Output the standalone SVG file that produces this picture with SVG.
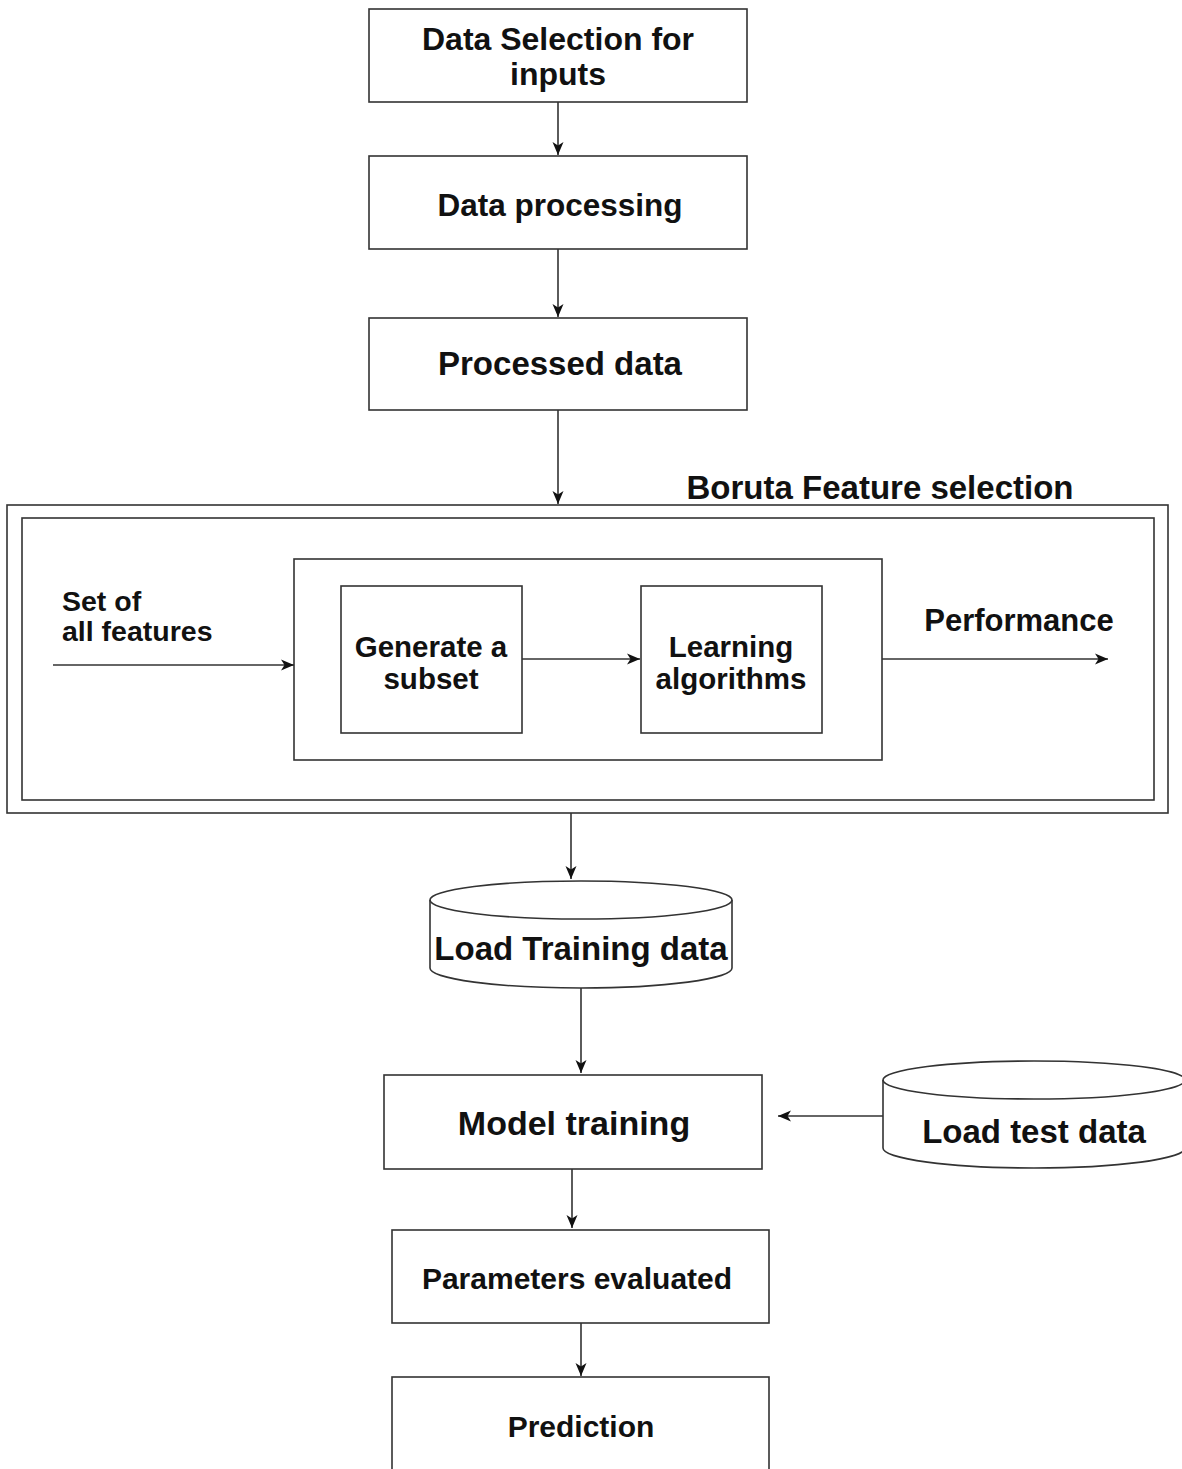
<svg xmlns="http://www.w3.org/2000/svg" width="1182" height="1469" viewBox="0 0 1182 1469">
<style>
.box{fill:#fff;stroke:#333;stroke-width:1.6}
.ln{fill:none;stroke:#333;stroke-width:1.6}
text{font-family:"Liberation Sans",Arial,sans-serif;font-weight:bold;fill:#111;text-anchor:middle}
.l{text-anchor:start}
</style>
<defs>
<marker id="ah" viewBox="0 0 13 12" refX="13" refY="6" markerWidth="13" markerHeight="12" markerUnits="userSpaceOnUse" orient="auto">
<path d="M0,0.5 L13,6 L0,11.5 L3.5,6 Z" fill="#111"/>
</marker>
</defs>
<rect width="1182" height="1469" fill="#fff"/>
<g id="n-data-selection">
<rect class="box" x="369" y="9" width="378" height="93"/>
<text x="558" y="50" font-size="32">Data Selection for</text>
<text x="558" y="85" font-size="32">inputs</text>
</g>
<g id="n-data-processing">
<rect class="box" x="369" y="156" width="378" height="93"/>
<text x="560" y="216" font-size="31.5">Data processing</text>
</g>
<g id="n-processed-data">
<rect class="box" x="369" y="318" width="378" height="92"/>
<text x="560" y="375" font-size="33">Processed data</text>
</g>
<g id="n-boruta">
<rect class="box" x="7" y="505" width="1161" height="308"/>
<rect class="box" x="22" y="518" width="1132" height="282"/>
<text x="880" y="499" font-size="33">Boruta Feature selection</text>
<text class="l" x="62" y="611" font-size="28.5">Set of</text>
<text class="l" x="62" y="641" font-size="28.5">all features</text>
<text x="1019" y="631" font-size="31">Performance</text>
</g>
<g id="n-inner">
<rect class="box" x="294" y="559" width="588" height="201"/>
</g>
<g id="n-generate">
<rect class="box" x="341" y="586" width="181" height="147"/>
<text x="431" y="657" font-size="29.5">Generate a</text>
<text x="431" y="689" font-size="29.5">subset</text>
</g>
<g id="n-learning">
<rect class="box" x="641" y="586" width="181" height="147"/>
<text x="731" y="657" font-size="29.5">Learning</text>
<text x="731" y="689" font-size="29.5">algorithms</text>
</g>
<g id="n-load-training">
<path class="box" d="M430,900 L430,968 A151,20 0 0 0 732,968 L732,900 A151,19 0 0 0 430,900 Z"/>
<path class="ln" d="M430,900 A151,19 0 0 0 732,900"/>
<text x="581" y="960" font-size="33">Load Training data</text>
</g>
<g id="n-model-training">
<rect class="box" x="384" y="1075" width="378" height="94"/>
<text x="574" y="1135" font-size="34">Model training</text>
</g>
<g id="n-load-test">
<path class="box" d="M883,1080 L883,1148 A151,20 0 0 0 1185,1148 L1185,1080 A151,19 0 0 0 883,1080 Z"/>
<path class="ln" d="M883,1080 A151,19 0 0 0 1185,1080"/>
<text x="1034" y="1143" font-size="33">Load test data</text>
</g>
<g id="n-parameters">
<rect class="box" x="392" y="1230" width="377" height="93"/>
<text x="577" y="1289" font-size="30">Parameters evaluated</text>
</g>
<g id="n-prediction">
<rect class="box" x="392" y="1377" width="377" height="100"/>
<text x="581" y="1437" font-size="30">Prediction</text>
</g>
<g id="connectors">
<line class="ln" x1="558" y1="102" x2="558" y2="155" marker-end="url(#ah)"/>
<line class="ln" x1="558" y1="249" x2="558" y2="317" marker-end="url(#ah)"/>
<line class="ln" x1="558" y1="410" x2="558" y2="504" marker-end="url(#ah)"/>
<line class="ln" x1="53" y1="665" x2="294" y2="665" marker-end="url(#ah)"/>
<line class="ln" x1="522" y1="659" x2="640" y2="659" marker-end="url(#ah)"/>
<line class="ln" x1="882" y1="659" x2="1108" y2="659" marker-end="url(#ah)"/>
<line class="ln" x1="571" y1="813" x2="571" y2="879" marker-end="url(#ah)"/>
<line class="ln" x1="581" y1="988" x2="581" y2="1073" marker-end="url(#ah)"/>
<line class="ln" x1="883" y1="1116" x2="778" y2="1116" marker-end="url(#ah)"/>
<line class="ln" x1="572" y1="1169" x2="572" y2="1228" marker-end="url(#ah)"/>
<line class="ln" x1="581" y1="1323" x2="581" y2="1376" marker-end="url(#ah)"/>
</g>
</svg>
